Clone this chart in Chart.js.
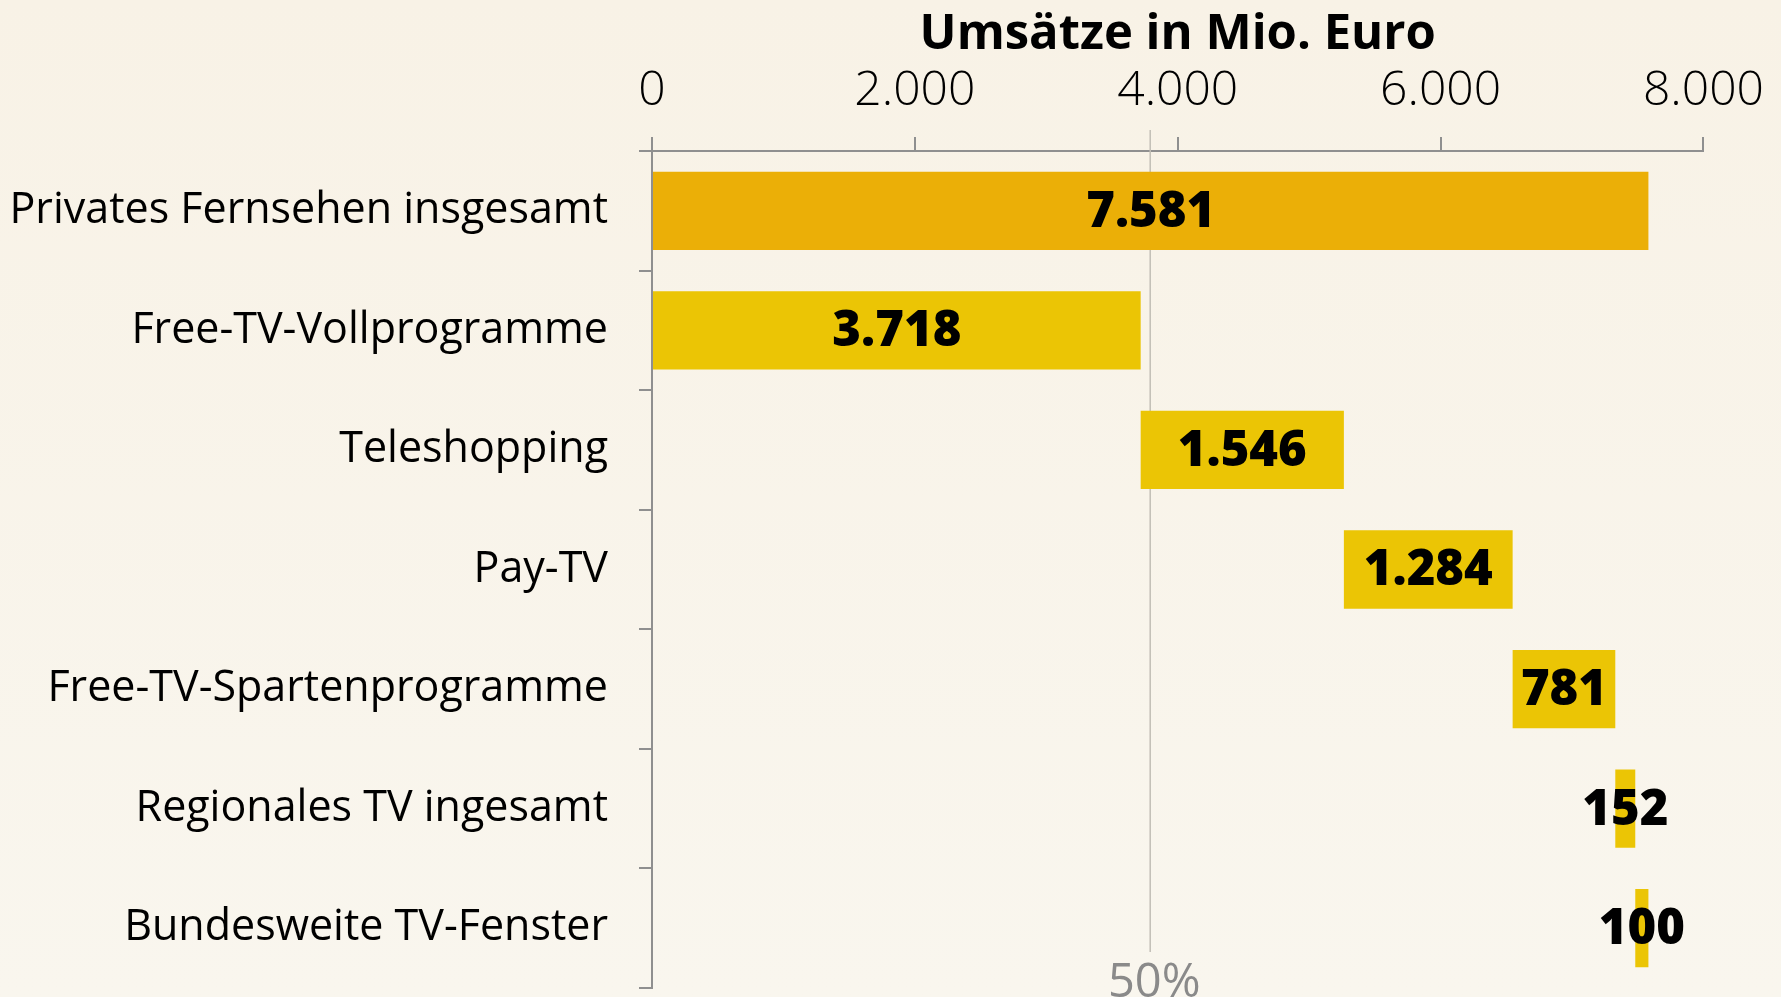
<!DOCTYPE html>
<html>
<head>
<meta charset="utf-8">
<script src="https://cdn.jsdelivr.net/npm/chart.js@4"></script>
<style>
  html, body { margin: 0; padding: 0; }
  body { background: linear-gradient(#f8f2e6, #f9f6ee); width: 1781px; height: 997px; overflow: hidden; }
  canvas { display: block; }
</style>
</head>
<body>
<canvas id="myChart" width="1781" height="997"></canvas>
<script>
// Kategorien und Werte (Umsätze in Mio. Euro)
const categories = [
  "Privates Fernsehen insgesamt",
  "Free-TV-Vollprogramme",
  "Teleshopping",
  "Pay-TV",
  "Free-TV-Spartenprogramme",
  "Regionales TV ingesamt",
  "Bundesweite TV-Fenster"
];
const values = [7581, 3718, 1546, 1284, 781, 152, 100];
const xTicks = [0, 2000, 4000, 6000, 8000];
const axisTitle = "Umsätze in Mio. Euro";
const halfLabel = "50%";

// Wasserfall: erste Säule ist die Summe, die anderen stapeln sich daneben
function buildRanges(vals) {
  let out = [[0, vals[0]]];
  let start = 0;
  for (let i = 1; i < vals.length; i++) {
    out.push([start, start + vals[i]]);
    start += vals[i];
  }
  return out;
}

const fmt = (v) => v.toLocaleString("de-DE");
const FONT = "'Open Sans', sans-serif";

const labelsPlugin = {
  id: "barLabels",
  afterDatasetsDraw(chart) {
    const ctx = chart.ctx;
    const meta = chart.getDatasetMeta(0);
    ctx.save();
    ctx.font = "800 49px " + FONT;
    ctx.fillStyle = "#000";
    ctx.textAlign = "center";
    ctx.textBaseline = "middle";
    meta.data.forEach((bar, i) => {
      const cx = (bar.x + bar.base) / 2;
      ctx.fillText(fmt(values[i]), cx, bar.y + 2);
    });
    ctx.restore();
  }
};

const halfLinePlugin = {
  id: "halfLine",
  beforeDatasetsDraw(chart) {
    const ctx = chart.ctx;
    const x = chart.scales.x.getPixelForValue(values[0] / 2);
    ctx.save();
    ctx.strokeStyle = "#c2beb6";
    ctx.lineWidth = 1.5;
    ctx.beginPath();
    ctx.moveTo(x, 130);
    ctx.lineTo(x, 952);
    ctx.stroke();
    ctx.font = "normal 47px " + FONT;
    ctx.fillStyle = "#8a8a8a";
    ctx.textAlign = "center";
    ctx.textBaseline = "alphabetic";
    ctx.fillText(halfLabel, x + 4, 997);
    ctx.restore();
  }
};

const ctx = document.getElementById("myChart").getContext("2d");
const myChart = new Chart(ctx, {
  type: "bar",
  data: {
    labels: categories,
    datasets: [{
      data: buildRanges(values),
      backgroundColor: values.map((v, i) => (i === 0 ? "#ebaf07" : "#ebc505")),
      borderWidth: 0,
      barPercentage: 0.655,
      categoryPercentage: 1
    }]
  },
  options: {
    indexAxis: "y",
    responsive: false,
    animation: false,
    layout: { padding: { left: 0, right: 74, top: 0, bottom: 9 } },
    plugins: { legend: { display: false }, tooltip: { enabled: false } },
    scales: {
      x: {
        position: "top",
        min: 0,
        max: 8000,
        afterBuildTicks: (axis) => { axis.ticks = xTicks.map((v) => ({ value: v })); },
        afterFit: (axis) => { axis.height = 151; },
        ticks: {
          color: "#000",
          font: { family: FONT, size: 48, weight: "300" },
          padding: 17,
          maxRotation: 0,
          callback: (v) => fmt(v)
        },
        grid: { drawOnChartArea: false, tickLength: 14, color: "#8f8f8f", lineWidth: 2 },
        border: { color: "#8f8f8f", width: 2 },
        title: {
          display: true,
          text: axisTitle,
          color: "#000",
          font: { family: FONT, size: 49, weight: "bold" },
          padding: { top: 6, bottom: 0 }
        }
      },
      y: {
        afterFit: (axis) => {
          axis.width = 652;
          axis.paddingTop = 0;
          axis.paddingBottom = 0;
        },
        ticks: {
          color: "#000",
          font: { family: FONT, size: 43, weight: "normal" },
          padding: 31
        },
        grid: { drawOnChartArea: false, offset: true, tickLength: 13, color: "#8f8f8f", lineWidth: 2 },
        border: { color: "#8f8f8f", width: 2 }
      }
    }
  },
  plugins: [halfLinePlugin, labelsPlugin]
});
</script>
</body>
</html>
